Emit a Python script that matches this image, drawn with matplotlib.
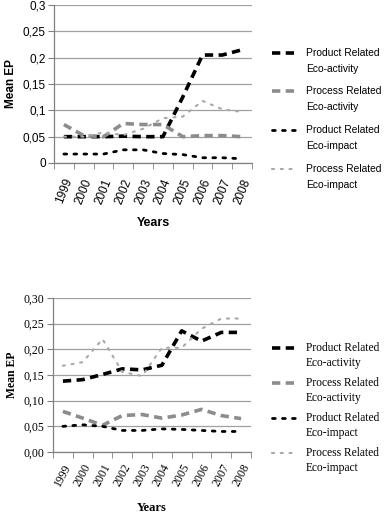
import numpy as np
import matplotlib
matplotlib.use("Agg")
import matplotlib.pyplot as plt
from matplotlib.lines import Line2D

# %%
# Data
years = ["1999", "2000", "2001", "2002", "2003", "2004", "2005", "2006", "2007", "2008"]

series_labels = [
    ("Product Related", "Eco-activity"),
    ("Process Related", "Eco-activity"),
    ("Product Related", "Eco-impact"),
    ("Process Related", "Eco-impact"),
]

top_prod_activity = [0.050, 0.050, 0.050, 0.051, 0.050, 0.050, 0.125, 0.205, 0.205, 0.215]
top_proc_activity = [0.073, 0.052, 0.050, 0.075, 0.073, 0.073, 0.050, 0.052, 0.052, 0.050]
top_prod_impact = [0.017, 0.017, 0.017, 0.025, 0.025, 0.018, 0.016, 0.010, 0.010, 0.008]
top_proc_impact = [0.050, 0.050, 0.058, 0.053, 0.065, 0.085, 0.088, 0.118, 0.102, 0.097]

bot_prod_activity = [0.138, 0.141, 0.151, 0.162, 0.160, 0.169, 0.236, 0.216, 0.233, 0.233]
bot_proc_activity = [0.079, 0.066, 0.052, 0.071, 0.073, 0.066, 0.072, 0.083, 0.071, 0.065]
bot_prod_impact = [0.050, 0.053, 0.050, 0.042, 0.042, 0.045, 0.044, 0.042, 0.040, 0.040]
bot_proc_impact = [0.168, 0.175, 0.220, 0.156, 0.148, 0.203, 0.203, 0.240, 0.260, 0.260]

top_yticks = [0, 0.05, 0.1, 0.15, 0.2, 0.25, 0.3]
top_yticklabels = ["0", "0,05", "0,1", "0,15", "0,2", "0,25", "0,3"]
bot_yticks = [0, 0.05, 0.1, 0.15, 0.2, 0.25, 0.3]
bot_yticklabels = ["0,00", "0,05", "0,10", "0,15", "0,20", "0,25", "0,30"]

# %%
# line styles: black dash, grey dash, black dots, light grey dots
styles = [
    dict(color="black", lw=2.6, dashes=(2.3, 1.5)),
    dict(color="#8c8c8c", lw=2.6, dashes=(2.3, 1.5)),
    dict(color="black", lw=2.0, dashes=(1.0, 2.6), dash_capstyle="round"),
    dict(color="#a8a8a8", lw=1.5, dashes=(1.0, 3.2), dash_capstyle="round"),
]

W, H = 385, 513
fig = plt.figure(figsize=(W / 100, H / 100), dpi=100)


def draw_panel(rect, data, yticks, yticklabels, family, rot, fs_tick, fs_year,
               fs_lab, legend_y, fs_leg, line_gap, xlab_y, xpad):
    ax = fig.add_axes(rect)
    x = np.arange(len(years))
    for vals, st in zip(data, styles):
        ax.plot(x, vals, **st)

    ax.set_xlim(-0.5, len(years) - 0.5)
    ax.set_ylim(0, 0.3)
    ax.set_yticks(yticks)
    ax.set_yticklabels(yticklabels, family=family, fontsize=fs_tick)
    ax.set_xticks(x)
    ax.set_xticklabels(years, rotation=rot, family=family, fontsize=fs_year,
                       ha="center", va="top")
    ax.set_xticks(np.arange(-0.5, len(years)), minor=True)
    ax.tick_params(axis="x", which="major", length=0, pad=xpad)
    ax.tick_params(axis="x", which="minor", length=4, color="#808080", direction="out")
    ax.tick_params(axis="y", length=4, color="#808080", pad=2)

    ax.grid(axis="y", color="#a0a0a0", lw=0.9)
    ax.set_axisbelow(True)
    for side in ["top", "right"]:
        ax.spines[side].set_visible(False)
    for side in ["left", "bottom"]:
        ax.spines[side].set_color("#808080")
        ax.spines[side].set_linewidth(0.9)

    ax.set_ylabel("Mean EP", family=family, fontsize=fs_lab, fontweight="bold", labelpad=4)
    fig.text((rect[0] + rect[2] / 2), 1 - xlab_y / H, "Years", family=family,
             fontsize=fs_lab + 0.5, fontweight="bold", ha="center", va="center")

    # legend drawn by hand, handle aligned with first text line
    for (l1, l2), st, y in zip(series_labels, styles, legend_y):
        fig.add_artist(Line2D([272 / W, 297 / W], [1 - y / H, 1 - y / H],
                              transform=fig.transFigure, **st))
        fig.text(306 / W, 1 - y / H, l1, family=family, fontsize=fs_leg,
                 va="center", ha="left")
        fig.text(306 / W, 1 - (y + line_gap) / H, l2, family=family, fontsize=fs_leg,
                 va="center", ha="left")
    return ax


ax1 = draw_panel([54 / W, 1 - 163 / H, 198 / W, 158 / H],
                 [top_prod_activity, top_proc_activity, top_prod_impact, top_proc_impact],
                 top_yticks, top_yticklabels, ["Liberation Sans", "DejaVu Sans"], 68,
                 8.5, 8.5, 8.5, [53, 91, 130, 169], 7.4, 16, 223, 10)

ax2 = draw_panel([53 / W, 1 - 452 / H, 198 / W, 154 / H],
                 [bot_prod_activity, bot_proc_activity, bot_prod_impact, bot_proc_impact],
                 bot_yticks, bot_yticklabels, ["Liberation Serif", "DejaVu Serif"], 62,
                 8.5, 8.5, 8.5, [348, 383, 418, 453], 8.3, 15, 508, 7)

fig.savefig("out.png", dpi=100)
